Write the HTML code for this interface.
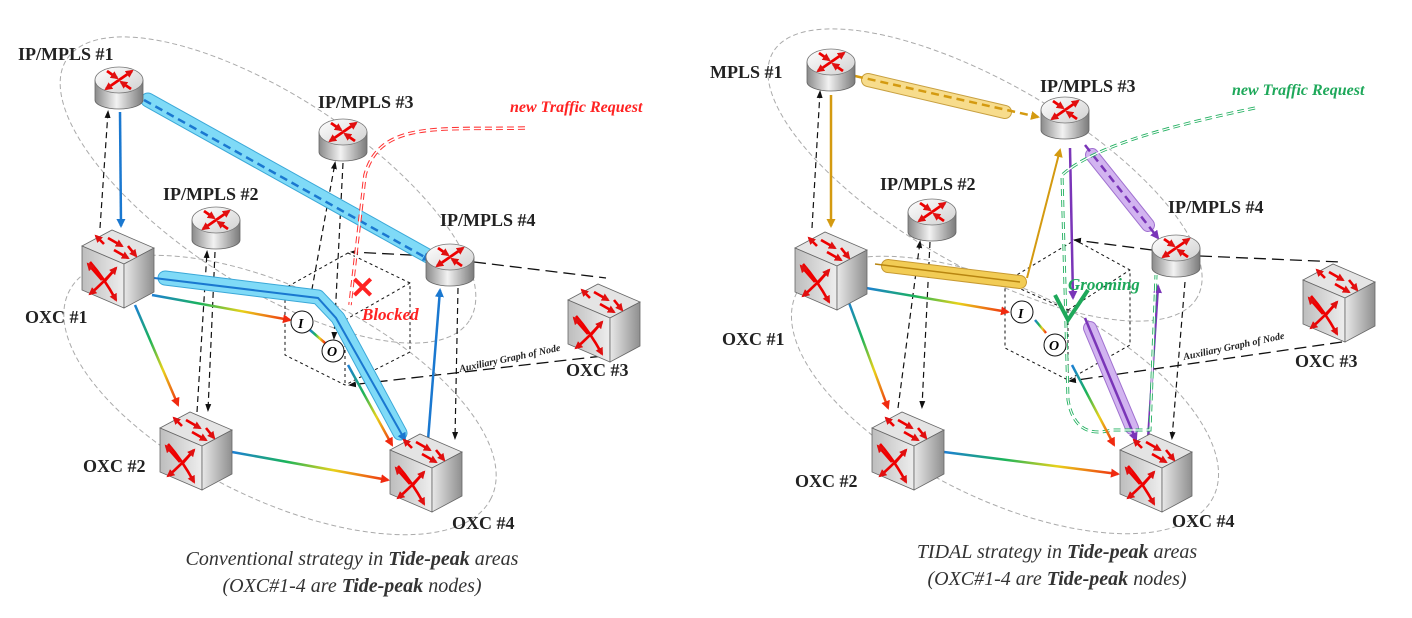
<!DOCTYPE html>
<html><head><meta charset="utf-8"><style>
html,body{margin:0;padding:0;background:#fff}
svg{display:block}
.lbl{font-family:"Liberation Serif",serif;font-weight:bold;font-size:18px;fill:#222}
.cap{font-family:"Liberation Serif",serif;font-style:italic;font-size:20px;fill:#333}
</style></head><body>
<svg width="1412" height="618" viewBox="0 0 1412 618" xmlns="http://www.w3.org/2000/svg">
<defs>
<linearGradient id="cyl" x1="0" x2="1" y1="0" y2="0"><stop offset="0" stop-color="#8a8a8a"/><stop offset=".45" stop-color="#f2f2f2"/><stop offset="1" stop-color="#7a7a7a"/></linearGradient>
<linearGradient id="ctop" x1="0" x2="1" y1="0" y2="1"><stop offset="0" stop-color="#fff"/><stop offset="1" stop-color="#d0d0d0"/></linearGradient>
<linearGradient id="face" x1="0" x2="1"><stop offset="0" stop-color="#bdbdbd"/><stop offset="1" stop-color="#eeeeee"/></linearGradient>
<linearGradient id="side" x1="0" x2="1"><stop offset="0" stop-color="#e8e8e8"/><stop offset="1" stop-color="#8f8f8f"/></linearGradient>
<linearGradient id="rb" x1="0" x2="1"><stop offset="0" stop-color="#1d7fd6"/><stop offset=".35" stop-color="#1bb45a"/><stop offset=".65" stop-color="#e8d21a"/><stop offset="1" stop-color="#f02a10"/></linearGradient>
<marker id="ar" markerWidth="8" markerHeight="8" refX="6" refY="4" orient="auto-start-reverse" markerUnits="userSpaceOnUse"><path d="M0,0 L8,4 L0,8 z" fill="#e01010"/></marker>
<marker id="ak" markerWidth="8" markerHeight="8" refX="6" refY="4" orient="auto-start-reverse" markerUnits="userSpaceOnUse"><path d="M0,1 L8,4 L0,7 z" fill="#111"/></marker>
<marker id="ab" markerWidth="9" markerHeight="9" refX="7" refY="4.5" orient="auto-start-reverse" markerUnits="userSpaceOnUse"><path d="M0,0 L9,4.5 L0,9 z" fill="#1a78d0"/></marker>
<marker id="ao" markerWidth="9" markerHeight="9" refX="7" refY="4.5" orient="auto-start-reverse" markerUnits="userSpaceOnUse"><path d="M0,0 L9,4.5 L0,9 z" fill="#d49a10"/></marker>
<marker id="ap" markerWidth="9" markerHeight="9" refX="7" refY="4.5" orient="auto-start-reverse" markerUnits="userSpaceOnUse"><path d="M0,0 L9,4.5 L0,9 z" fill="#7a35b8"/></marker>
<marker id="aB" markerWidth="9" markerHeight="9" refX="7" refY="4.5" orient="auto" markerUnits="userSpaceOnUse"><path d="M0,0 L9,4.5 L0,9 z" fill="#1a78d0"/></marker>
<marker id="aR" markerWidth="9" markerHeight="9" refX="7" refY="4.5" orient="auto" markerUnits="userSpaceOnUse"><path d="M0,0 L9,4.5 L0,9 z" fill="#f02a10"/></marker>
<symbol id="router" viewBox="0 0 48 44" width="48" height="44" overflow="visible">
<path d="M0,14 L0,34 A24,9 0 0 0 48,34 L48,14 z" fill="url(#cyl)" stroke="#666" stroke-width=".8"/>
<ellipse cx="24" cy="14" rx="24" ry="13" fill="url(#ctop)" stroke="#777" stroke-width=".8"/>
<g stroke="#e00" stroke-width="2.8" fill="none" marker-end="url(#ar)">
<line x1="24" y1="14" x2="37" y2="5"/><line x1="24" y1="14" x2="11" y2="23"/>
<line x1="12" y1="5" x2="22" y2="12"/><line x1="36" y1="23" x2="26" y2="16"/></g>
</symbol>
<symbol id="oxc" viewBox="0 0 72 80" width="72" height="80" overflow="visible">
<polygon points="0,18 30,2 72,20 42,36" fill="#e4e4e4" stroke="#666" stroke-width=".8"/>
<polygon points="0,18 42,36 42,80 0,62" fill="url(#face)" stroke="#666" stroke-width=".8"/>
<polygon points="42,36 72,20 72,64 42,80" fill="url(#side)" stroke="#666" stroke-width=".8"/>
<g stroke="#e00" stroke-width="2.6" fill="none" marker-end="url(#ar)">
<line x1="22" y1="16" x2="14" y2="8"/><line x1="26" y1="10" x2="40" y2="18"/><line x1="46" y1="18" x2="54" y2="28"/><line x1="32" y1="22" x2="46" y2="30"/>
<path d="M8,34 Q22,50 34,72"/><path d="M34,40 Q20,56 8,66"/><line x1="20" y1="52" x2="6" y2="36"/><line x1="22" y1="54" x2="34" y2="40"/></g>
</symbol>
</defs>

<!-- ================= LEFT ================= -->
<g>
<ellipse cx="268" cy="190" rx="240" ry="95" transform="rotate(33 268 190)" fill="none" stroke="#aaa" stroke-dasharray="5,3"/>
<ellipse cx="280" cy="395" rx="235" ry="105" transform="rotate(26 280 395)" fill="none" stroke="#aaa" stroke-dasharray="5,3"/>
<g fill="none" stroke="#111" stroke-dasharray="3,3" stroke-width="1">
<polygon points="348,253 410,283 410,352 345,385 285,355 285,288"/>
<line x1="345" y1="320" x2="345" y2="385"/><line x1="345" y1="320" x2="410" y2="283"/><line x1="345" y1="320" x2="285" y2="288"/>
</g>
<g fill="none" stroke="#111" stroke-dasharray="12,6" stroke-width="1.3">
<line x1="474" y1="262" x2="606" y2="278"/><line x1="430" y1="256" x2="352" y2="252" marker-end="url(#ak)"/>
<line x1="620" y1="354" x2="350" y2="385" marker-end="url(#ak)"/>
</g>
<g stroke="#111" stroke-dasharray="6,4" stroke-width="1.2" fill="none">
<line x1="100" y1="228" x2="108" y2="112" marker-end="url(#ak)"/>
<line x1="197" y1="412" x2="207" y2="252" marker-end="url(#ak)"/>
<line x1="215" y1="252" x2="208" y2="410" marker-end="url(#ak)"/>
<line x1="310" y1="300" x2="335" y2="163" marker-end="url(#ak)"/>
<line x1="343" y1="163" x2="334" y2="338" marker-end="url(#ak)"/>
<line x1="458" y1="288" x2="455" y2="438" marker-end="url(#ak)"/>
</g>
<line x1="148" y1="100" x2="428" y2="256" stroke="#3aa8d8" stroke-width="15" stroke-linecap="round"/>
<line x1="148" y1="100" x2="428" y2="256" stroke="#7fdaf7" stroke-width="13" stroke-linecap="round"/>
<line x1="144" y1="100" x2="430" y2="260" stroke="#1a78d0" stroke-width="2.5" stroke-dasharray="8,5" marker-end="url(#ab)"/>
<path d="M165,278 L318,297 L338,318 L400,433" stroke="#3aa8d8" stroke-width="15" fill="none" stroke-linecap="round" stroke-linejoin="round"/>
<path d="M165,278 L318,297 L338,318 L400,433" stroke="#7fdaf7" stroke-width="13" fill="none" stroke-linecap="round" stroke-linejoin="round"/>
<path d="M154,278 L318,298 L336,318 L405,440" stroke="#1a78d0" stroke-width="2" fill="none" marker-end="url(#aB)"/>
<line x1="120" y1="112" x2="121" y2="226" stroke="#1a78d0" stroke-width="2.5" marker-end="url(#ab)"/>
<line x1="428" y1="440" x2="440" y2="290" stroke="#1a78d0" stroke-width="2.5" marker-end="url(#ab)"/>
<g stroke="url(#rb)" stroke-width="2.5" fill="none">
<line x1="152" y1="295" x2="290" y2="320" marker-end="url(#aR)"/>
<line x1="135" y1="305" x2="178" y2="405" marker-end="url(#aR)"/>
<line x1="232" y1="452" x2="388" y2="480" marker-end="url(#aR)"/>
<line x1="348" y1="365" x2="392" y2="445" marker-end="url(#aR)"/>
<line x1="310" y1="330" x2="325" y2="343"/>
</g>
<path d="M525,128 C440,130 380,120 365,175 L350,305" fill="none" stroke="#f33" stroke-width="3.5" stroke-dasharray="7,4"/>
<path d="M525,128 C440,130 380,120 365,175 L350,305" fill="none" stroke="#fff" stroke-width="1.5"/>
<text x="350" y="298" font-family="Liberation Sans,sans-serif" font-size="30" font-weight="bold" fill="#f22">✕</text>
<circle cx="302" cy="322" r="11" fill="#fff" stroke="#111"/><text x="298" y="328" font-family="Liberation Serif,serif" font-style="italic" font-weight="bold" font-size="14">I</text>
<circle cx="333" cy="351" r="11" fill="#fff" stroke="#111"/><text x="327" y="356" font-family="Liberation Serif,serif" font-style="italic" font-weight="bold" font-size="14">O</text>
<use href="#router" x="95" y="66"/>
<use href="#router" x="319" y="118"/>
<use href="#router" x="192" y="206"/>
<use href="#router" x="426" y="243"/>
<use href="#oxc" x="82" y="228"/>
<use href="#oxc" x="160" y="410"/>
<use href="#oxc" x="390" y="432"/>
<use href="#oxc" x="568" y="282"/>
<text class="lbl" x="18" y="60">IP/MPLS #1</text>
<text class="lbl" x="318" y="108">IP/MPLS #3</text>
<text class="lbl" x="163" y="200">IP/MPLS #2</text>
<text class="lbl" x="440" y="226">IP/MPLS #4</text>
<text class="lbl" x="25" y="323">OXC #1</text>
<text class="lbl" x="83" y="472">OXC #2</text>
<text class="lbl" x="452" y="529">OXC #4</text>
<text class="lbl" x="566" y="376">OXC #3</text>
<text x="510" y="112" font-family="Liberation Serif,serif" font-style="italic" font-weight="bold" font-size="16" fill="#f22">new Traffic Request</text>
<text x="362" y="320" font-family="Liberation Serif,serif" font-style="italic" font-weight="bold" font-size="17" fill="#f22">Blocked</text>
<text x="460" y="372" transform="rotate(-12 460 372)" font-family="Liberation Serif,serif" font-style="italic" font-weight="bold" font-size="10" fill="#222">Auxiliary Graph of Node</text>
<text class="cap" x="352" y="565" text-anchor="middle">Conventional strategy in <tspan font-weight="bold">Tide-peak</tspan> areas</text>
<text class="cap" x="352" y="592" text-anchor="middle">(OXC#1-4 are <tspan font-weight="bold">Tide-peak</tspan> nodes)</text>
</g>

<!-- ================= RIGHT ================= -->
<g>
<ellipse cx="985" cy="175" rx="245" ry="92" transform="rotate(30 985 175)" fill="none" stroke="#aaa" stroke-dasharray="5,3"/>
<ellipse cx="1005" cy="395" rx="232" ry="105" transform="rotate(26 1005 395)" fill="none" stroke="#aaa" stroke-dasharray="5,3"/>
<g fill="none" stroke="#111" stroke-dasharray="3,3" stroke-width="1">
<polygon points="1075,240 1130,270 1130,345 1068,380 1005,348 1005,282"/>
<line x1="1068" y1="310" x2="1068" y2="380"/><line x1="1068" y1="310" x2="1130" y2="270"/><line x1="1068" y1="310" x2="1005" y2="282"/>
</g>
<g fill="none" stroke="#111" stroke-dasharray="12,6" stroke-width="1.3">
<line x1="1200" y1="256" x2="1340" y2="262"/><line x1="1152" y1="250" x2="1075" y2="240" marker-end="url(#ak)"/>
<line x1="1342" y1="342" x2="1070" y2="381" marker-end="url(#ak)"/>
</g>
<g stroke="#111" stroke-dasharray="6,4" stroke-width="1.2" fill="none">
<line x1="812" y1="228" x2="820" y2="92" marker-end="url(#ak)"/>
<line x1="898" y1="408" x2="920" y2="242" marker-end="url(#ak)"/>
<line x1="930" y1="242" x2="922" y2="407" marker-end="url(#ak)"/>
<line x1="1185" y1="282" x2="1172" y2="438" marker-end="url(#ak)"/>
</g>
<line x1="868" y1="80" x2="1005" y2="112" stroke="#c8a040" stroke-width="14" stroke-linecap="round"/>
<line x1="868" y1="80" x2="1005" y2="112" stroke="#f7dc8c" stroke-width="12" stroke-linecap="round"/>
<line x1="855" y1="76" x2="1038" y2="117" stroke="#d49a10" stroke-width="2.5" stroke-dasharray="8,5" marker-end="url(#ao)"/>
<line x1="888" y1="266" x2="1020" y2="282" stroke="#c89a30" stroke-width="14" stroke-linecap="round"/>
<line x1="888" y1="266" x2="1020" y2="282" stroke="#f2cc55" stroke-width="12" stroke-linecap="round"/>
<line x1="875" y1="264" x2="1020" y2="282" stroke="#b88510" stroke-width="1.5"/>
<line x1="831" y1="95" x2="831" y2="226" stroke="#d49a10" stroke-width="2.5" marker-end="url(#ao)"/>
<line x1="1027" y1="278" x2="1060" y2="150" stroke="#d49a10" stroke-width="2" marker-end="url(#ao)"/>
<line x1="1092" y1="155" x2="1148" y2="225" stroke="#a070d0" stroke-width="14" stroke-linecap="round"/>
<line x1="1092" y1="155" x2="1148" y2="225" stroke="#d2b4f0" stroke-width="12" stroke-linecap="round"/>
<line x1="1085" y1="145" x2="1158" y2="238" stroke="#7a35b8" stroke-width="2.5" stroke-dasharray="8,5" marker-end="url(#ap)"/>
<line x1="1090" y1="328" x2="1132" y2="428" stroke="#a070d0" stroke-width="14" stroke-linecap="round"/>
<line x1="1090" y1="328" x2="1132" y2="428" stroke="#d2b4f0" stroke-width="12" stroke-linecap="round"/>
<line x1="1070" y1="148" x2="1073" y2="298" stroke="#7a35b8" stroke-width="2.5" marker-end="url(#ap)"/>
<line x1="1085" y1="318" x2="1136" y2="440" stroke="#7a35b8" stroke-width="2.5" marker-end="url(#ap)"/>
<line x1="1148" y1="440" x2="1158" y2="286" stroke="#7a35b8" stroke-width="2.5" marker-end="url(#ap)"/>
<path d="M1255,108 C1150,130 1090,150 1062,175 L1068,400 Q1075,440 1112,430 L1150,430 L1156,275" fill="none" stroke="#22b060" stroke-width="3" stroke-dasharray="7,4"/>
<path d="M1255,108 C1150,130 1090,150 1062,175 L1068,400 Q1075,440 1112,430 L1150,430 L1156,275" fill="none" stroke="#fff" stroke-width="1.2"/>
<path d="M1055,295 L1068,320 L1088,290" fill="none" stroke="#1ea85a" stroke-width="4"/>
<g stroke="url(#rb)" stroke-width="2.5" fill="none">
<line x1="866" y1="288" x2="1008" y2="312" marker-end="url(#aR)"/>
<line x1="848" y1="300" x2="888" y2="408" marker-end="url(#aR)"/>
<line x1="944" y1="452" x2="1118" y2="474" marker-end="url(#aR)"/>
<line x1="1072" y1="365" x2="1114" y2="445" marker-end="url(#aR)"/>
<line x1="1035" y1="320" x2="1046" y2="333"/>
</g>
<circle cx="1022" cy="312" r="11" fill="#fff" stroke="#111"/><text x="1018" y="318" font-family="Liberation Serif,serif" font-style="italic" font-weight="bold" font-size="14">I</text>
<circle cx="1055" cy="345" r="11" fill="#fff" stroke="#111"/><text x="1049" y="350" font-family="Liberation Serif,serif" font-style="italic" font-weight="bold" font-size="14">O</text>
<use href="#router" x="807" y="48"/>
<use href="#router" x="1041" y="96"/>
<use href="#router" x="908" y="198"/>
<use href="#router" x="1152" y="234"/>
<use href="#oxc" x="795" y="230"/>
<use href="#oxc" x="872" y="410"/>
<use href="#oxc" x="1120" y="432"/>
<use href="#oxc" x="1303" y="262"/>
<text class="lbl" x="710" y="78">MPLS #1</text>
<text class="lbl" x="1040" y="92">IP/MPLS #3</text>
<text class="lbl" x="880" y="190">IP/MPLS #2</text>
<text class="lbl" x="1168" y="213">IP/MPLS #4</text>
<text class="lbl" x="722" y="345">OXC #1</text>
<text class="lbl" x="795" y="487">OXC #2</text>
<text class="lbl" x="1172" y="527">OXC #4</text>
<text class="lbl" x="1295" y="367">OXC #3</text>
<text x="1232" y="95" font-family="Liberation Serif,serif" font-style="italic" font-weight="bold" font-size="16" fill="#1ea85a">new Traffic Request</text>
<text x="1068" y="290" font-family="Liberation Serif,serif" font-style="italic" font-weight="bold" font-size="17" fill="#1ea85a">Grooming</text>
<text x="1184" y="360" transform="rotate(-12 1184 360)" font-family="Liberation Serif,serif" font-style="italic" font-weight="bold" font-size="10" fill="#222">Auxiliary Graph of Node</text>
<text class="cap" x="1057" y="558" text-anchor="middle">TIDAL strategy in <tspan font-weight="bold">Tide-peak</tspan> areas</text>
<text class="cap" x="1057" y="585" text-anchor="middle">(OXC#1-4 are <tspan font-weight="bold">Tide-peak</tspan> nodes)</text>
</g>
</svg>
</body></html>
